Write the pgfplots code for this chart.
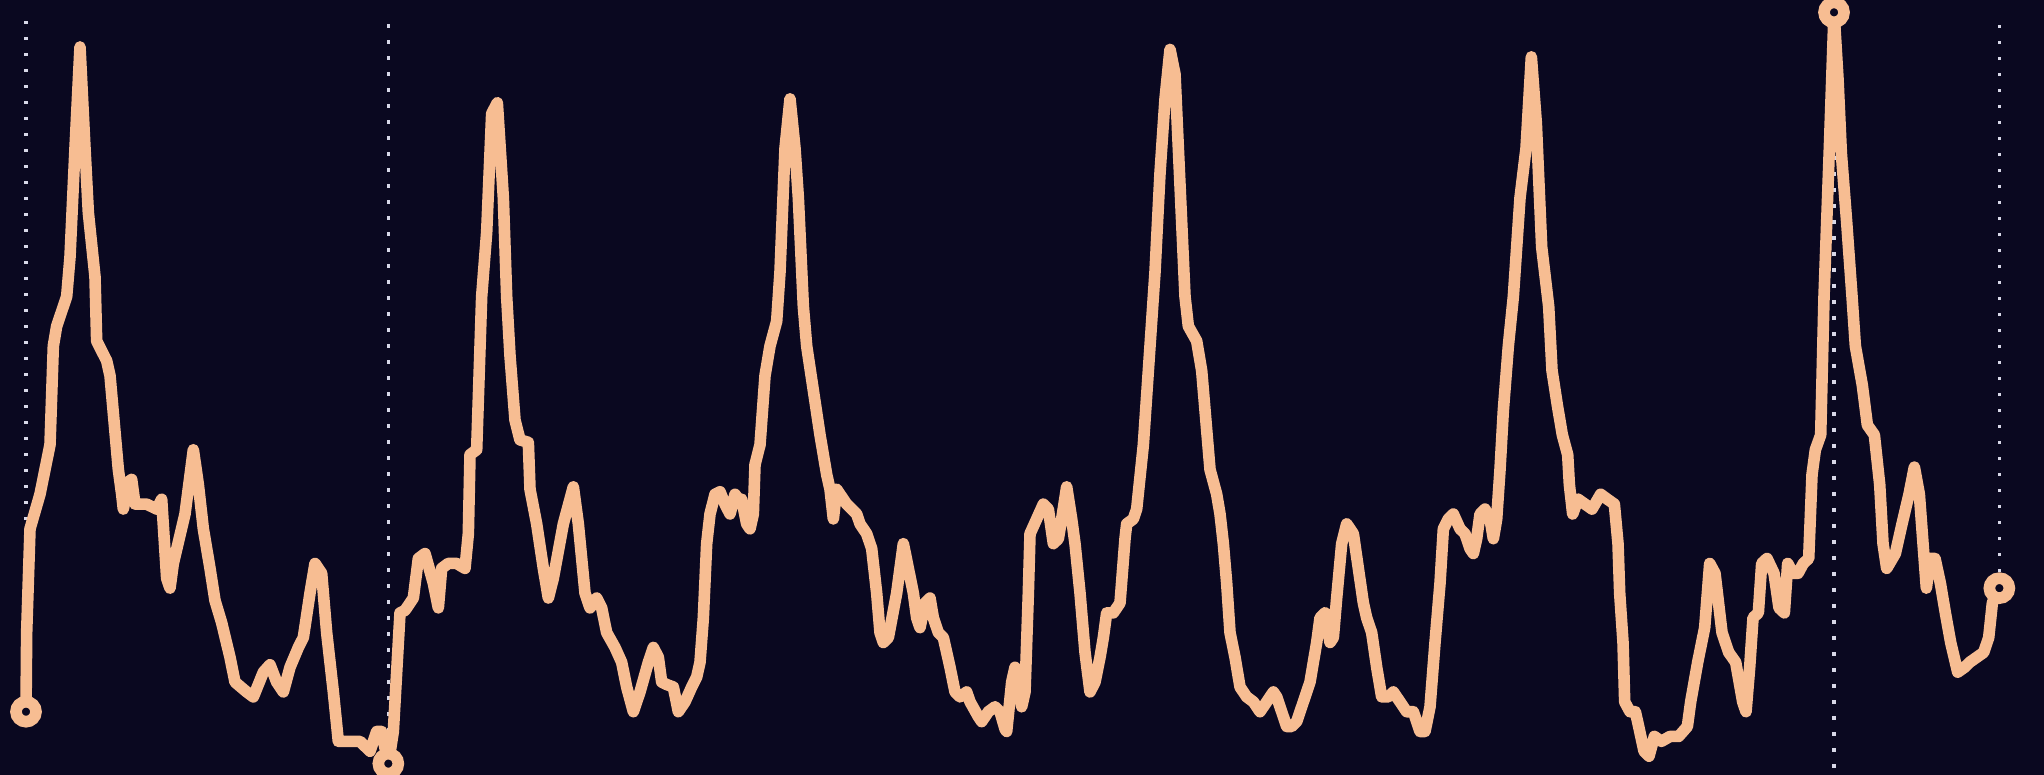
\documentclass[border=0pt]{standalone}
\usepackage{pgfplots}
\pgfplotsset{compat=1.18}
\definecolor{bg}{HTML}{0A0820}
\definecolor{peach}{HTML}{F7BD92}
\definecolor{guide}{HTML}{D8D8E8}

\begin{document}
\begin{tikzpicture}
\begin{axis}[
    scale only axis,
    width=1022bp, height=387.5bp,
    xmin=0, xmax=6132,
    ymin=0, ymax=1568,
    hide axis,
    clip=true,
]
% background
\fill[bg] (rel axis cs:0,0) rectangle (rel axis cs:1,1);

% vertical guides (dotted)
\addplot[guide, line width=1.6bp, dash pattern=on 1.6bp off 6.4bp]
    coordinates {(78,128) (78,1528)};
\addplot[guide, line width=1.6bp, dash pattern=on 1.6bp off 6.4bp]
    coordinates {(1165,23) (1165,1540)};
\addplot[guide, line width=1.6bp, dash pattern=on 1.6bp off 6.4bp]
    coordinates {(5502,1543) (5502,0)};
\addplot[guide, line width=1.6bp, dash pattern=on 1.6bp off 6.4bp]
    coordinates {(5998,378) (5998,1523)};

% series
\addplot[peach, line width=5.8bp, line join=round, line cap=round] coordinates {
(78,128) (80,288) (90,498) (120,568) (150,668) (160,868) (170,908) (200,968)
(210,1048) (225,1268) (240,1473) (255,1268) (265,1138) (285,1008) (290,878)
(320,838) (330,808) (355,618) (365,568) (370,538) (385,593) (395,598)
(405,548) (440,548) (470,538) (485,558) (500,398) (510,378) (520,428)
(555,528) (580,658) (595,588) (610,498) (630,418) (645,353) (665,308)
(690,238) (705,188) (740,168) (760,158) (790,208) (810,223) (830,188)
(850,168) (870,218) (895,258) (910,278) (930,368) (945,428) (965,408)
(980,288) (1000,168) (1015,68) (1040,68) (1080,68) (1110,48) (1130,88)
(1145,88) (1160,38) (1165,23) (1180,88) (1200,328) (1215,333) (1240,358)
(1255,438) (1275,448) (1300,388) (1315,338) (1325,418) (1345,428) (1370,428)
(1395,418) (1405,488) (1410,648) (1430,658) (1445,968) (1460,1098)
(1475,1338) (1492,1360) (1510,1168) (1520,968) (1530,848) (1545,718)
(1560,678) (1585,673) (1590,578) (1610,508) (1630,418) (1645,358)
(1660,398) (1690,508) (1720,583) (1735,508) (1745,438) (1755,368)
(1770,338) (1790,358) (1805,338) (1820,288) (1845,258) (1865,228)
(1880,178) (1900,128) (1920,168) (1945,228) (1960,258) (1975,238)
(1985,188) (2000,183) (2020,178) (2035,128) (2055,148) (2075,178)
(2090,198) (2100,228) (2110,318) (2120,468) (2130,528) (2145,568)
(2160,573) (2175,548) (2190,528) (2205,568) (2215,558) (2225,558)
(2240,508) (2250,498) (2260,528) (2265,628) (2280,668) (2295,808)
(2310,868) (2330,918) (2340,1018) (2355,1268) (2370,1368) (2385,1268)
(2395,1168) (2410,948) (2420,868) (2440,778) (2460,688) (2480,608)
(2490,578) (2500,518) (2510,578) (2520,568) (2540,548) (2555,538)
(2570,528) (2580,508) (2600,488) (2615,458) (2630,368) (2640,288)
(2650,268) (2665,278) (2690,368) (2710,468) (2725,418) (2740,368)
(2750,318) (2760,298) (2775,348) (2790,358) (2800,318) (2815,288)
(2830,278) (2850,218) (2865,168) (2880,158) (2900,168) (2910,148)
(2935,118) (2945,108) (2965,128) (2985,138) (3000,128) (3015,93)
(3020,88) (3035,188) (3045,218) (3055,208) (3065,138) (3075,168)
(3085,368) (3090,488) (3110,518) (3130,548) (3145,538) (3160,468)
(3175,478) (3185,518) (3200,583) (3215,518) (3225,468) (3240,368)
(3255,248) (3270,168) (3285,188) (3300,238) (3310,278) (3320,328)
(3340,328) (3360,348) (3375,478) (3380,508) (3400,518) (3410,538)
(3430,668) (3445,818) (3465,1018) (3480,1218) (3495,1368) (3510,1468)
(3525,1418) (3535,1268) (3545,1118) (3555,968) (3565,908) (3590,878)
(3605,818) (3615,738) (3630,618) (3650,568) (3660,528) (3670,468)
(3680,388) (3690,288) (3705,238) (3720,178) (3740,158) (3760,148)
(3780,128) (3800,148) (3820,168) (3830,158) (3845,128) (3860,98)
(3875,98) (3890,108) (3910,148) (3930,188) (3950,268) (3960,318)
(3975,328) (3990,268) (4000,278) (4010,358) (4025,468) (4040,508)
(4060,488) (4075,418) (4090,348) (4100,318) (4115,288) (4130,218)
(4145,158) (4165,158) (4180,168) (4200,148) (4220,128) (4240,128)
(4260,88) (4275,88) (4290,138) (4305,268) (4320,388) (4330,498)
(4345,518) (4360,528) (4380,498) (4395,488) (4410,458) (4420,448)
(4430,478) (4440,528) (4455,538) (4470,518) (4480,478) (4490,518)
(4500,618) (4510,738) (4525,868) (4540,968) (4560,1168) (4578,1268)
(4594,1453) (4609,1318) (4625,1068) (4646,948) (4656,818) (4672,748)
(4687,688) (4703,648) (4708,588) (4718,528) (4734,558) (4755,548)
(4776,538) (4802,568) (4822,558) (4843,548) (4854,468) (4859,368)
(4869,268) (4874,148) (4890,128) (4906,128) (4916,98) (4932,48)
(4947,38) (4963,78) (4984,68) (5010,78) (5036,78) (5062,98) (5072,148)
(5093,228) (5114,298) (5129,428) (5145,408) (5166,288) (5186,248)
(5207,228) (5228,148) (5238,128) (5249,218) (5259,318) (5275,328)
(5285,428) (5301,438) (5322,408) (5337,338) (5353,328) (5363,428)
(5379,408) (5394,408) (5410,428) (5426,438) (5436,608) (5446,658)
(5462,688) (5472,968) (5488,1268) (5502,1543) (5514,1408) (5524,1258)
(5540,1118) (5556,968) (5566,868) (5587,788) (5602,708) (5623,688)
(5639,588) (5649,468) (5660,418) (5686,448) (5706,508) (5727,568)
(5743,623) (5758,568) (5769,468) (5779,378) (5790,438) (5805,438)
(5821,388) (5836,328) (5852,268) (5873,208) (5894,218) (5909,228)
(5930,238) (5951,248) (5966,278) (5977,348) (5998,378)
};

% end and extreme markers
\addplot[only marks, mark=*, mark size=5bp,
    mark options={fill=bg, draw=peach, line width=5.8bp}]
    coordinates {(78,128) (1165,23) (5502,1543) (5998,378)};
\end{axis}
\end{tikzpicture}
\end{document}
